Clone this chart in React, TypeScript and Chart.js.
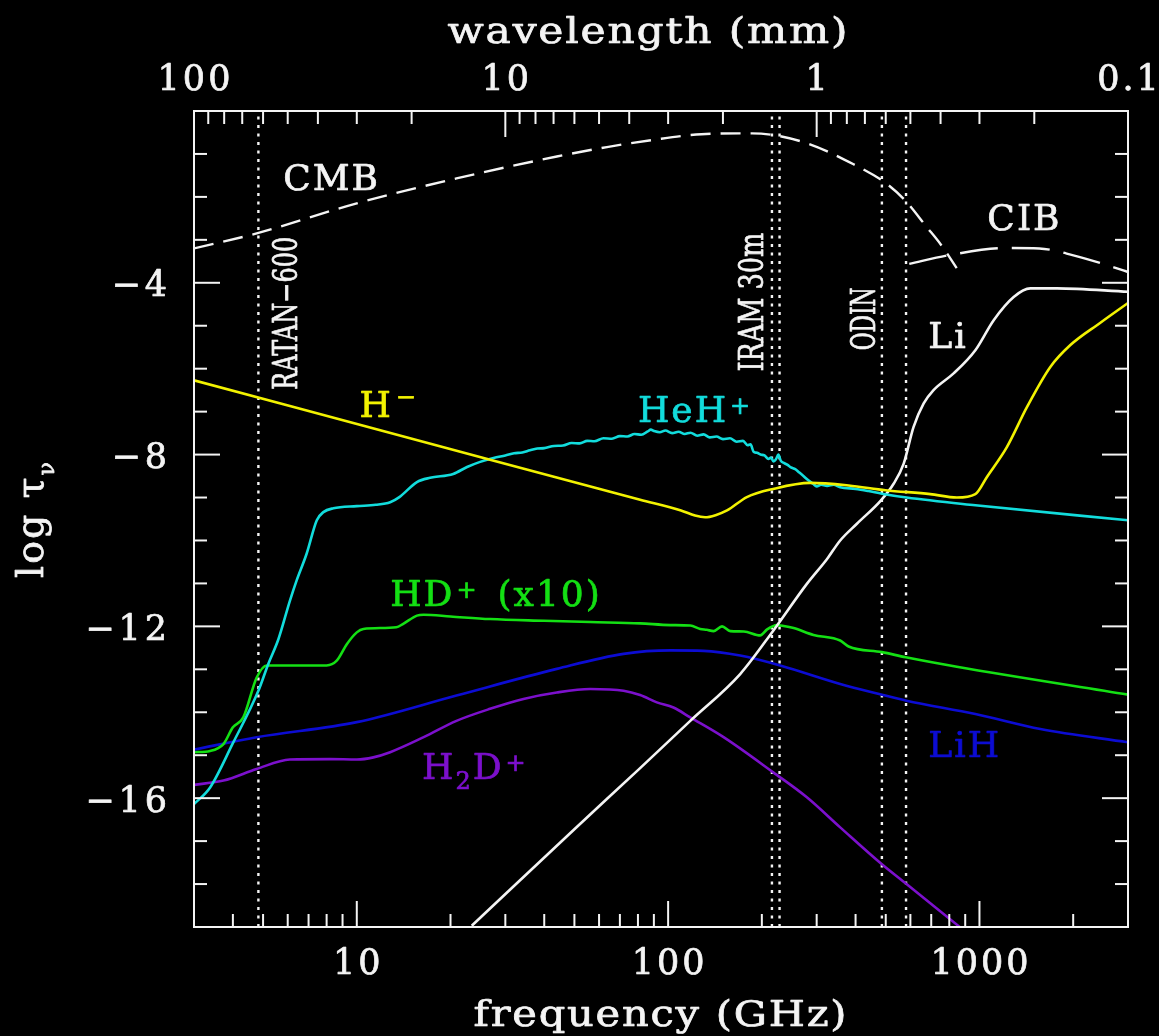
import { useEffect, useRef } from "react";
import { Chart, registerables } from "chart.js";

Chart.register(...registerables);

// ---------- spectra: frequency (GHz) vs log10 optical depth ----------
const hMinusFreq = [3, 26.8, 81.3, 110, 122, 131.5, 142, 154.6, 179, 217.6, 286, 380, 499, 695, 846, 970, 1057, 1226, 1422, 1689, 1959, 2446, 3000];
const hMinusTau = [-6.27, -8.12, -9.05, -9.3, -9.42, -9.46, -9.41, -9.3, -8.99, -8.8, -8.66, -8.72, -8.83, -8.92, -9.0, -8.92, -8.52, -7.82, -6.89, -5.96, -5.45, -4.93, -4.47];

const hehFreq = [3, 3.38, 4.0, 4.83, 5.2, 5.6, 6.1, 6.41, 6.9, 7.44, 7.81, 8.41, 10, 11.5, 12.8, 13.7, 15.6, 17.2, 20.4, 22.6, 24.9, 27.5, 30, 32, 34, 36, 38, 40, 43, 46, 49, 52, 55, 58, 62, 66, 70, 74, 78, 82, 86, 88, 90, 94, 98, 103, 108, 113, 118, 124, 130, 136, 143, 150, 158, 166, 174, 180, 184, 188, 193, 198, 204, 210, 214, 218, 222, 226, 230, 236, 242, 248, 256, 264, 272, 282, 292, 300, 310, 324, 340, 357, 400, 440, 486, 583, 970, 3000];
const hehTau = [-16.14, -15.75, -14.72, -13.5, -12.87, -12.3, -11.4, -10.93, -10.31, -9.53, -9.34, -9.25, -9.2, -9.17, -9.11, -8.99, -8.64, -8.54, -8.45, -8.29, -8.17, -8.08, -8.02, -7.97, -7.95, -7.9, -7.86, -7.85, -7.8, -7.79, -7.73, -7.74, -7.68, -7.69, -7.62, -7.63, -7.57, -7.58, -7.52, -7.54, -7.46, -7.42, -7.45, -7.48, -7.44, -7.5, -7.47, -7.52, -7.49, -7.56, -7.53, -7.6, -7.58, -7.64, -7.62, -7.7, -7.68, -7.78, -7.76, -7.93, -7.96, -8.0, -8.02, -8.1, -8.07, -8.16, -8.11, -8.0, -8.14, -8.2, -8.24, -8.3, -8.34, -8.42, -8.5, -8.6, -8.68, -8.74, -8.7, -8.73, -8.7, -8.76, -8.8, -8.85, -8.91, -9.0, -9.18, -9.53];

// HD+ is plotted multiplied by 10
const hdFreq = [3, 3.38, 3.73, 4.0, 4.32, 4.77, 5.14, 6.1, 8.0, 8.62, 9.3, 10, 10.5, 13.4, 14.1, 15.6, 16.4, 20, 26.8, 40, 56.2, 81.3, 101.6, 117.8, 126.8, 133, 140, 149, 158.4, 175, 197.7, 208, 223.8, 235, 253, 293, 357, 380, 486, 580, 846, 3000];
const hdTau = [-14.93, -14.9, -14.74, -14.35, -14.12, -13.19, -12.91, -12.91, -12.91, -12.8, -12.41, -12.14, -12.06, -12.02, -11.94, -11.75, -11.73, -11.77, -11.83, -11.87, -11.9, -11.93, -11.97, -11.98, -12.06, -12.08, -12.11, -12.0, -12.11, -12.12, -12.21, -12.07, -11.97, -11.99, -12.04, -12.2, -12.33, -12.47, -12.6, -12.72, -12.94, -13.59];

const lihFreq = [3, 4.77, 10, 20.9, 43.9, 71.9, 101.6, 130, 170.4, 229, 357, 486, 583, 970, 1569, 3000];
const lihTau = [-14.87, -14.58, -14.23, -13.61, -12.99, -12.64, -12.56, -12.57, -12.68, -12.91, -13.34, -13.59, -13.73, -14.04, -14.39, -14.7];

const h2dFreq = [3, 3.73, 4.77, 6.1, 8.2, 10, 11.3, 12.8, 16.4, 20.9, 26.8, 34.3, 43.9, 56.2, 71.9, 81.3, 92, 104, 117.8, 150.7, 217.6, 279, 357, 486, 583, 868];
const h2dTau = [-15.69, -15.59, -15.32, -15.1, -15.09, -15.1, -15.05, -14.93, -14.58, -14.2, -13.92, -13.69, -13.54, -13.46, -13.5, -13.6, -13.77, -13.89, -14.12, -14.58, -15.4, -15.98, -16.68, -17.54, -18.0, -19.01];

const liFreq = [23.4, 49.7, 81.3, 117.8, 170.4, 217.6, 279, 324, 357, 404, 482, 530, 571, 614, 662, 712, 826, 970, 1111, 1288, 1457, 1775, 3000];
const liTau = [-18.97, -16.74, -15.3, -14.2, -13.11, -12.1, -11.01, -10.43, -10.0, -9.61, -9.07, -8.68, -8.21, -7.36, -6.81, -6.5, -6.11, -5.57, -4.87, -4.33, -4.13, -4.13, -4.21];

// background radiation fields (dashed)
const cmbFreq = [3, 4.77, 10, 20.9, 43.9, 63.6, 88, 128, 186, 271, 394, 507, 580, 675, 755, 845];
const cmbTau = [-3.2, -2.85, -2.15, -1.57, -1.06, -0.84, -0.68, -0.54, -0.52, -0.72, -1.24, -1.71, -2.1, -2.69, -3.13, -3.66];
const cibFreq = [595, 794, 1214, 1557, 2003, 2702, 3000];
const cibTau = [-3.56, -3.36, -3.19, -3.2, -3.36, -3.64, -3.75];

// observing bands (GHz)
const ratanBand = [4.83];
const iramBand = [215.5, 228];
const odinBand = [486, 581];

// ---------- axis ticks ----------
const freqMajorTicks = [10, 100, 1000];
const freqTickLabels = ["10", "100", "1000"];
const freqMinorTicks = [4, 5, 6, 7, 8, 9, 20, 30, 40, 50, 60, 70, 80, 90, 200, 300, 400, 500, 600, 700, 800, 900, 2000];
const waveMajorTicks = [100, 10, 1, 0.1];
const waveTickLabels = ["100", "10", "1", "0.1"];
const waveMinorTicks = [90, 80, 70, 60, 50, 40, 30, 20, 9, 8, 7, 6, 5, 4, 3, 2, 0.9, 0.8, 0.7, 0.6, 0.5, 0.4, 0.3, 0.2];
const tauMajorTicks = [-4, -8, -12, -16];
const tauTickLabels = ["−4", "−8", "−12", "−16"];
const tauMinorTicks = [-1, -2, -3, -5, -6, -7, -9, -10, -11, -13, -14, -15, -17, -18];

const TAU_MIN = -19;
const TAU_MAX = 0;

// ---------- styling ----------
const SERIF = '"DejaVu Serif", "Liberation Serif", serif';
const INK = "#f4f4f4";
const YELLOW = "#f2f200";
const CYAN = "#12dcdc";
const GREEN = "#14e014";
const BLUE = "#0c0cd2";
const PURPLE = "#7c10cc";
const TEXT_WEIGHT = 0.7; // extra outline that thickens the glyph strokes

type Run = { t: string; size?: number; dy?: number; gap?: number };

const curveLabels: { runs: Run[]; f: number; tau: number; color: string }[] = [
  { runs: [{ t: "CMB" }], f: 5.8, tau: -1.84, color: INK },
  { runs: [{ t: "CIB" }], f: 1060, tau: -2.77, color: INK },
  { runs: [{ t: "Li" }], f: 685, tau: -5.52, color: INK },
  { runs: [{ t: "H" }, { t: "−", size: 24, dy: -12, gap: 3 }], f: 10.2, tau: -7.13, color: YELLOW },
  { runs: [{ t: "HeH" }, { t: "+", size: 24, dy: -8, gap: 2 }], f: 80, tau: -7.24, color: CYAN },
  { runs: [{ t: "HD" }, { t: "+", size: 24, dy: -8, gap: 2 }, { t: "(x10)", gap: 19 }], f: 12.8, tau: -11.52, color: GREEN },
  { runs: [{ t: "H" }, { t: "2", size: 24, dy: 10 }, { t: "D" }, { t: "+", size: 24, dy: -8, gap: 2 }], f: 16.2, tau: -15.55, color: PURPLE },
  { runs: [{ t: "LiH" }], f: 685, tau: -15.05, color: BLUE },
];

const bandLabels = [
  { text: "RATAN−600", f: 5.88, tau: -4.71, length: 153 },
  { text: "IRAM 30m", f: 184.8, tau: -4.45, length: 139 },
  { text: "ODIN", f: 422.6, tau: -4.84, length: 63 },
];

function pts(fs: number[], ts: number[]) {
  return fs.map((f, i) => ({ x: f, y: ts[i] }));
}

function glyph(ctx: CanvasRenderingContext2D, ch: string, x: number, y: number) {
  ctx.fillText(ch, x, y);
  ctx.strokeText(ch, x, y);
}

function runsWidth(ctx: CanvasRenderingContext2D, runs: Run[], base: number, spacing: number) {
  let w = 0;
  for (const r of runs) {
    w += r.gap ?? 0;
    ctx.font = `${r.size ?? base}px ${SERIF}`;
    for (const ch of r.t) w += ctx.measureText(ch).width + spacing;
  }
  return w - spacing;
}

function drawRuns(ctx: CanvasRenderingContext2D, runs: Run[], x: number, y: number, base: number, spacing: number) {
  let cx = x;
  for (const r of runs) {
    cx += r.gap ?? 0;
    ctx.font = `${r.size ?? base}px ${SERIF}`;
    for (const ch of r.t) {
      glyph(ctx, ch, cx, y + (r.dy ?? 0));
      cx += ctx.measureText(ch).width + spacing;
    }
  }
}

// text stretched horizontally to a given width, centred on cx
function drawFit(ctx: CanvasRenderingContext2D, text: string, cx: number, y: number, size: number, width: number, spacing: number) {
  const runs = [{ t: text }];
  const natural = runsWidth(ctx, runs, size, spacing);
  ctx.save();
  ctx.translate(cx - width / 2, y);
  ctx.scale(width / natural, 1);
  drawRuns(ctx, runs, 0, 0, size, spacing);
  ctx.restore();
}

const framePlugin = {
  id: "frame",
  afterDatasetsDraw(chart: any) {
    const { ctx, chartArea: a, scales } = chart;
    const xs = scales.x;
    const ys = scales.y;
    const MAJOR = 26;
    const MINOR = 13;
    ctx.save();
    ctx.setLineDash([]);
    ctx.strokeStyle = INK;
    ctx.lineWidth = 2;
    ctx.lineCap = "butt";
    const seg = (x1: number, y1: number, x2: number, y2: number) => {
      ctx.beginPath();
      ctx.moveTo(x1, y1);
      ctx.lineTo(x2, y2);
      ctx.stroke();
    };
    ctx.strokeRect(a.left, a.top, a.right - a.left, a.bottom - a.top);

    // bottom axis: frequency
    freqMajorTicks.forEach((f) => {
      const x = xs.getPixelForValue(f);
      seg(x, a.bottom, x, a.bottom - MAJOR);
    });
    freqMinorTicks.forEach((f) => {
      const x = xs.getPixelForValue(f);
      seg(x, a.bottom, x, a.bottom - MINOR);
    });
    // top axis: wavelength in mm (nu = 300 / lambda)
    waveMajorTicks.forEach((w) => {
      const x = xs.getPixelForValue(300 / w);
      seg(x, a.top, x, a.top + MAJOR);
    });
    waveMinorTicks.forEach((w) => {
      const x = xs.getPixelForValue(300 / w);
      seg(x, a.top, x, a.top + MINOR);
    });
    // left and right axes
    tauMajorTicks.forEach((t) => {
      const y = ys.getPixelForValue(t);
      seg(a.left, y, a.left + MAJOR, y);
      seg(a.right, y, a.right - MAJOR, y);
    });
    tauMinorTicks.forEach((t) => {
      const y = ys.getPixelForValue(t);
      seg(a.left, y, a.left + MINOR, y);
      seg(a.right, y, a.right - MINOR, y);
    });

    // tick labels
    ctx.textAlign = "left";
    ctx.textBaseline = "alphabetic";
    ctx.lineWidth = TEXT_WEIGHT;
    ctx.lineJoin = "round";
    const setInk = (c: string) => {
      ctx.fillStyle = c;
      ctx.strokeStyle = c;
    };
    setInk(INK);
    const TICK = 35;
    freqMajorTicks.forEach((f, i) => {
      const runs = [{ t: freqTickLabels[i] }];
      const w = runsWidth(ctx, runs, TICK, 3);
      drawRuns(ctx, runs, xs.getPixelForValue(f) - w / 2, a.bottom + 46.5, TICK, 3);
    });
    waveMajorTicks.forEach((wv, i) => {
      const runs = [{ t: waveTickLabels[i] }];
      const w = runsWidth(ctx, runs, TICK, 3);
      drawRuns(ctx, runs, xs.getPixelForValue(300 / wv) - w / 2, a.top - 21.5, TICK, 3);
    });
    tauMajorTicks.forEach((t, i) => {
      const runs = [{ t: tauTickLabels[i] }];
      const w = runsWidth(ctx, runs, TICK, 4);
      drawRuns(ctx, runs, a.left - 27 - w, ys.getPixelForValue(t) + 13.5, TICK, 4);
    });

    // axis titles
    drawFit(ctx, "wavelength (mm)", 647.5, 43, 35, 400, 1.5);
    drawFit(ctx, "frequency (GHz)", 660, 1026, 35, 373, 1.5);
    ctx.save();
    ctx.translate(43, 578);
    ctx.rotate(-Math.PI / 2);
    drawRuns(ctx, [{ t: "log" }, { t: " " }, { t: "τ" }, { t: "ν", size: 22, dy: 11 }], 0, 0, 38, 2);
    ctx.restore();

    // curve labels
    curveLabels.forEach((lab) => {
      setInk(lab.color);
      drawRuns(ctx, lab.runs, xs.getPixelForValue(lab.f), ys.getPixelForValue(lab.tau), 36, 2);
    });

    // observing band labels, set vertically
    setInk(INK);
    bandLabels.forEach((lab) => {
      const size = 33;
      ctx.save();
      ctx.translate(xs.getPixelForValue(lab.f), ys.getPixelForValue(lab.tau));
      ctx.rotate(-Math.PI / 2);
      ctx.font = `${size}px ${SERIF}`;
      const w = ctx.measureText(lab.text).width;
      ctx.scale(lab.length / w, 1);
      ctx.textAlign = "center";
      ctx.fillText(lab.text, 0, size * 0.365);
      ctx.strokeText(lab.text, 0, size * 0.365);
      ctx.restore();
    });
    ctx.restore();
  },
};

function curve(label: string, fs: number[], ts: number[], color: string, extra: any = {}) {
  return {
    label,
    data: pts(fs, ts),
    borderColor: color,
    backgroundColor: color,
    borderWidth: 2.6,
    pointRadius: 0,
    fill: false,
    cubicInterpolationMode: "monotone",
    ...extra,
  };
}

function bandLines(label: string, fs: number[]) {
  return fs.map((f) => ({
    label,
    data: [
      { x: f, y: TAU_MIN },
      { x: f, y: TAU_MAX },
    ],
    borderColor: INK,
    borderWidth: 2.4,
    borderDash: [3, 5.5],
    pointRadius: 0,
    fill: false,
  }));
}

export default function App() {
  const ref = useRef<HTMLCanvasElement>(null);

  useEffect(() => {
    const canvas = ref.current;
    if (!canvas) return;
    const chart = new Chart(canvas, {
      type: "line",
      data: {
        datasets: [
          curve("H−", hMinusFreq, hMinusTau, YELLOW),
          curve("HeH+", hehFreq, hehTau, CYAN),
          curve("Li", liFreq, liTau, INK),
          curve("HD+ (x10)", hdFreq, hdTau, GREEN),
          curve("LiH", lihFreq, lihTau, BLUE),
          curve("H2D+", h2dFreq, h2dTau, PURPLE),
          curve("CMB", cmbFreq, cmbTau, INK, { borderDash: [20, 10], borderWidth: 2.4 }),
          curve("CIB", cibFreq, cibTau, INK, { borderDash: [38, 14], borderWidth: 2.4 }),
          ...bandLines("RATAN-600", ratanBand),
          ...bandLines("IRAM 30m", iramBand),
          ...bandLines("ODIN", odinBand),
        ] as any,
      },
      options: {
        responsive: false,
        animation: false,
        devicePixelRatio: 1,
        layout: { padding: { left: 194, right: 31, top: 111, bottom: 109 } },
        scales: {
          x: { type: "logarithmic", min: 3, max: 3000, display: false },
          y: { type: "linear", min: TAU_MIN, max: TAU_MAX, display: false },
        },
        plugins: {
          legend: { display: false },
          tooltip: { enabled: false },
        },
      },
      plugins: [framePlugin],
    });
    return () => chart.destroy();
  }, []);

  return (
    <div style={{ position: "absolute", left: 0, top: 0, width: 1159, height: 1036, background: "#000" }}>
      <canvas ref={ref} width={1159} height={1036} style={{ display: "block" }} />
    </div>
  );
}
